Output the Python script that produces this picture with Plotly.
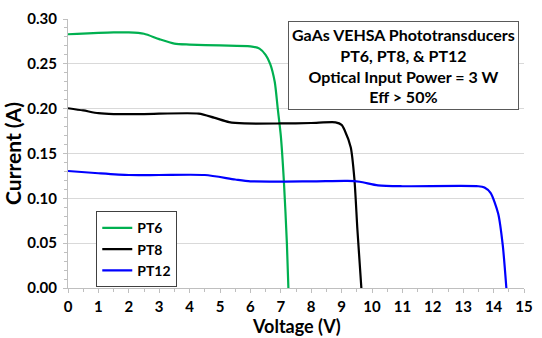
import plotly.graph_objects as go

# PT6 (green)
pt6_v = [0, 0.3, 1.0, 1.5, 2.0, 2.5, 3.0, 3.5, 4.0, 5.0, 6.0, 6.3, 6.5, 6.65, 6.8, 6.9, 7.0, 7.1, 7.2, 7.25]
pt6_i = [0.283, 0.2835, 0.2845, 0.285, 0.285, 0.2835, 0.2775, 0.2725, 0.2715, 0.2705, 0.2695, 0.267, 0.260, 0.250, 0.230, 0.200, 0.170, 0.120, 0.050, 0.0]
# PT8 (black)
pt8_v = [0, 0.5, 1.0, 1.5, 2.5, 4.3, 4.8, 5.3, 5.8, 7.0, 8.0, 8.8, 9.0, 9.1, 9.3, 9.42, 9.52, 9.65]
pt8_i = [0.2005, 0.198, 0.195, 0.194, 0.194, 0.1945, 0.190, 0.185, 0.1835, 0.1835, 0.184, 0.1848, 0.182, 0.176, 0.157, 0.122, 0.065, 0.0]
# PT12 (blue)
pt12_v = [0, 1.0, 2.0, 3.0, 4.5, 5.5, 6.0, 8.0, 9.2, 9.6, 10.2, 11.0, 13.5, 13.7, 13.9, 14.15, 14.3, 14.42]
pt12_i = [0.1305, 0.128, 0.126, 0.126, 0.126, 0.121, 0.119, 0.119, 0.1195, 0.1185, 0.1145, 0.1135, 0.1135, 0.112, 0.106, 0.083, 0.048, 0.0]

x_ticks = list(range(0, 16))
y_ticks = [0.0, 0.05, 0.10, 0.15, 0.20, 0.25, 0.30]

FONT = "Lato"

fig = go.Figure()
for name, v, i, c in [("PT6", pt6_v, pt6_i, "#00b050"),
                      ("PT8", pt8_v, pt8_i, "#000000"),
                      ("PT12", pt12_v, pt12_i, "#0000ff")]:
    fig.add_trace(go.Scatter(x=v, y=i, name=name, mode="lines",
                             line=dict(color=c, width=2.2, shape="spline", smoothing=0.7)))

fig.update_layout(
    width=542, height=338,
    margin=dict(l=68, r=9, t=10, b=50),
    plot_bgcolor="white", paper_bgcolor="white",
    font=dict(family=FONT, size=15, color="black"),
    showlegend=True,
    legend=dict(x=0.062, y=0.285, xanchor="left", yanchor="top",
                bordercolor="#404040", borderwidth=1, bgcolor="white",
                font=dict(family=FONT, size=14, color="black", weight="bold"),
                tracegroupgap=0, itemwidth=30),
    annotations=[
        dict(x=0.7366, y=0.826, xref="paper", yref="paper", xanchor="center", yanchor="middle",
             text="GaAs VEHSA Phototransducers<br>PT6, PT8, &amp; PT12<br>Optical Input Power = 3 W<br>Eff &gt; 50%",
             showarrow=False, align="center",
             font=dict(family=FONT, size=16, color="black", weight="bold"),
             bordercolor="#595959", borderwidth=1, borderpad=3, bgcolor="white"),
        dict(x=0.5, y=0, xref="paper", yref="paper", xanchor="center", yanchor="bottom",
             yshift=-50, text="Voltage (V)", showarrow=False, borderpad=0,
             font=dict(family=FONT, size=18, color="black", weight="bold")),
    ],
)
fig.update_xaxes(range=[0, 15], tickvals=x_ticks, ticktext=[str(t) for t in x_ticks],
                 showgrid=False, zeroline=False, showline=True, linecolor="#bfbfbf", linewidth=1,
                 ticks="outside", ticklen=4, tickcolor="#bfbfbf", ticklabelstandoff=1,
                 minor=dict(dtick=0.5, tick0=0, ticks="outside", ticklen=3, tickcolor="#bfbfbf"),
                 tickfont=dict(family=FONT, size=15, weight="bold"))
fig.update_yaxes(range=[0, 0.3], tickvals=y_ticks, ticktext=[f"{t:.2f}" for t in y_ticks],
                 showgrid=True, gridcolor="#d9d9d9", gridwidth=1,
                 zeroline=False, showline=True, linecolor="#bfbfbf", linewidth=1,
                 ticks="outside", ticklen=4, tickcolor="#bfbfbf", ticklabelstandoff=3,
                 minor=dict(dtick=0.01, tick0=0, ticks="outside", ticklen=3, tickcolor="#bfbfbf", showgrid=False),
                 tickfont=dict(family=FONT, size=15, weight="bold"),
                 title=dict(text="Current (A)", standoff=4,
                            font=dict(family=FONT, size=21, weight="bold")))

fig.write_html("out.html")
